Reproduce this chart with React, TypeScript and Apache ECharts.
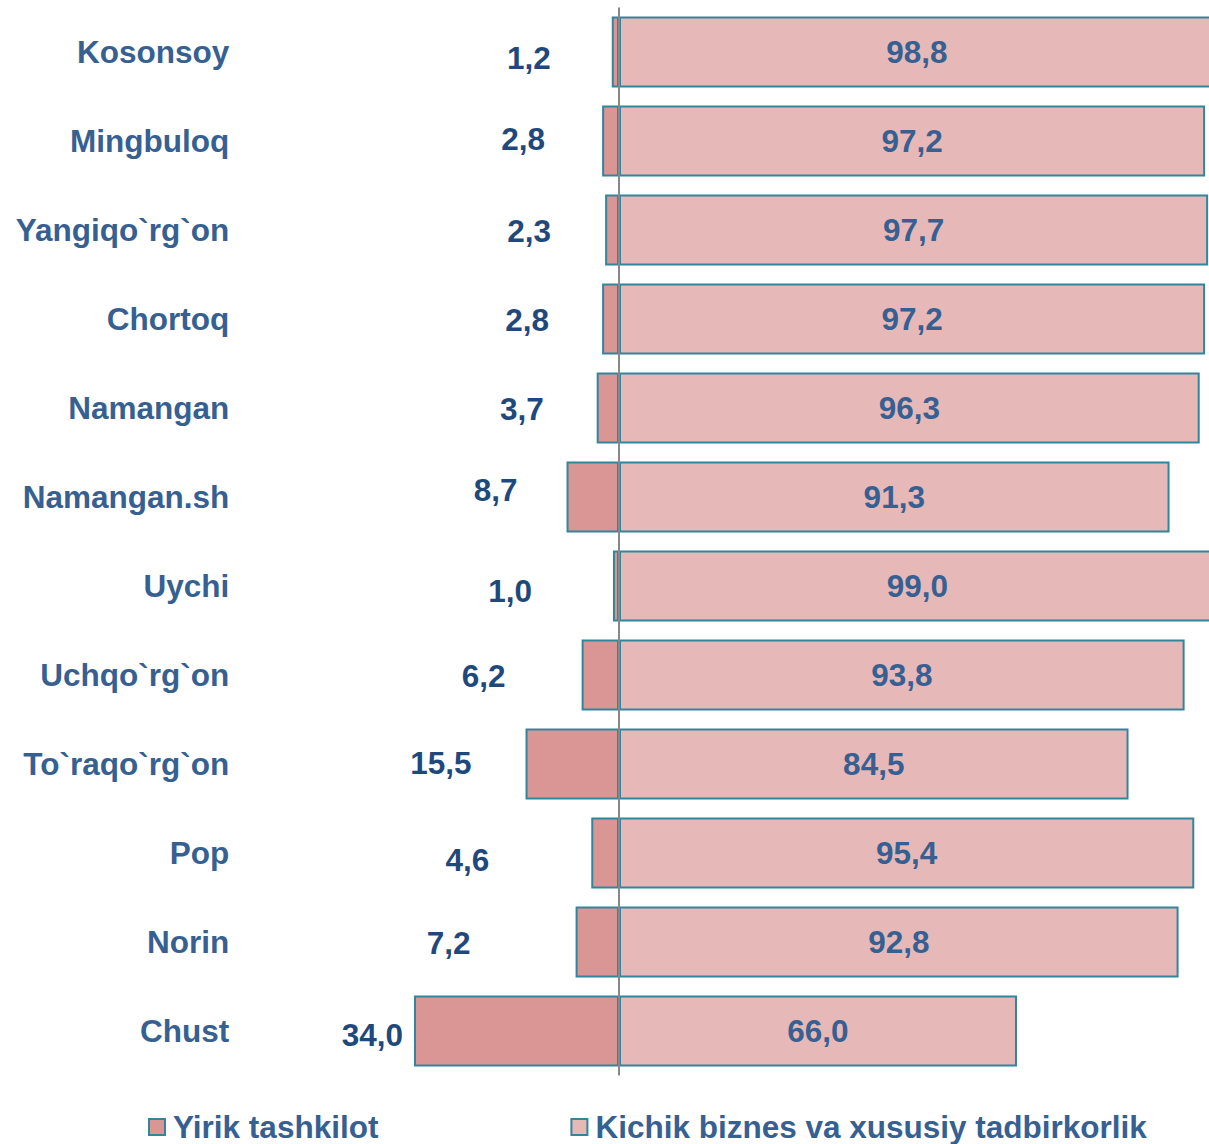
import React, { useEffect, useRef } from "react";
import * as echarts from "echarts";

const categories = [
  "Kosonsoy",
  "Mingbuloq",
  "Yangiqo`rg`on",
  "Chortoq",
  "Namangan",
  "Namangan.sh",
  "Uychi",
  "Uchqo`rg`on",
  "To`raqo`rg`on",
  "Pop",
  "Norin",
  "Chust",
];
const yirikValues = [1.2, 2.8, 2.3, 2.8, 3.7, 8.7, 1.0, 6.2, 15.5, 4.6, 7.2, 34.0];
const kichikValues = [98.8, 97.2, 97.7, 97.2, 96.3, 91.3, 99.0, 93.8, 84.5, 95.4, 92.8, 66.0];
const seriesNames = ["Yirik tashkilot", "Kichik biznes va xususiy tadbirkorlik"];

// label nudges (as placed in the original picture)
const yirikLabelGap = [61, 57, 54, 53, 53, 49, 81, 76, 54, 102, 105, 11];
const yirikLabelShift = [6, -2, 1, 1, 1, -7, 5, 1, -1, 7, 1, 4];

const FONT = "'Liberation Sans', Arial, sans-serif";
const fmt = (v: number) => Math.abs(v).toFixed(1).replace(".", ",");

export default function App() {
  const ref = useRef<HTMLDivElement>(null);
  useEffect(() => {
    if (!ref.current) return;
    const chart = echarts.init(ref.current, undefined, { renderer: "svg" });
    const border = "#31859C";
    chart.setOption({
      animation: false,
      backgroundColor: "#ffffff",
      grid: { left: 257.2, right: 0, top: 7.5, bottom: 68.5, containLabel: false },
      legend: {
        data: seriesNames,
        icon: "rect",
        left: 143,
        top: 1106,
        itemWidth: 16,
        itemHeight: 16,
        itemGap: 192,
        itemStyle: { borderColor: border, borderWidth: 2 },
        textStyle: {
          fontSize: 31.5,
          fontWeight: "bold",
          color: "#376092",
          fontFamily: FONT,
          padding: [0, 0, 0, 3],
        },
      },
      xAxis: { type: "value", min: -60, max: 100, show: false },
      yAxis: {
        type: "category",
        data: categories,
        inverse: true,
        axisLine: { show: false, onZero: false },
        axisTick: { show: false },
        splitLine: { show: false },
        axisLabel: {
          margin: 28,
          fontSize: 31.5,
          fontWeight: "bold",
          color: "#376092",
          fontFamily: FONT,
        },
      },
      series: [
        {
          name: seriesNames[0],
          type: "bar",
          barWidth: 71,
          barGap: "-100%",
          itemStyle: { color: "#D99694", borderColor: border, borderWidth: 2 },
          label: {
            show: true,
            position: "left",
            formatter: (p: any) => fmt(p.value),
            fontSize: 31.5,
            fontWeight: "bold",
            color: "#1F497D",
            fontFamily: FONT,
          },
          data: yirikValues.map((v, i) => ({
            value: -v,
            label: { distance: yirikLabelGap[i], offset: [0, yirikLabelShift[i]] },
          })),
        },
        {
          name: seriesNames[1],
          type: "bar",
          barWidth: 71,
          barGap: "-100%",
          itemStyle: { color: "#E6B9B8", borderColor: border, borderWidth: 2 },
          label: {
            show: true,
            position: "inside",
            formatter: (p: any) => fmt(p.value),
            fontSize: 31.5,
            fontWeight: "bold",
            color: "#376092",
            fontFamily: FONT,
          },
          data: kichikValues,
          markLine: {
            silent: true,
            symbol: "none",
            z: 10,
            label: { show: false },
            lineStyle: { color: "#888888", width: 2, type: "solid" },
            data: [{ xAxis: 0 }],
          },
        },
      ],
    });
    return () => chart.dispose();
  }, []);
  return (
    <div
      style={{
        position: "absolute",
        left: 0,
        top: 0,
        width: 1209,
        height: 1144,
        overflow: "hidden",
        background: "#ffffff",
      }}
    >
      <div ref={ref} style={{ width: 1222, height: 1144 }} />
    </div>
  );
}
